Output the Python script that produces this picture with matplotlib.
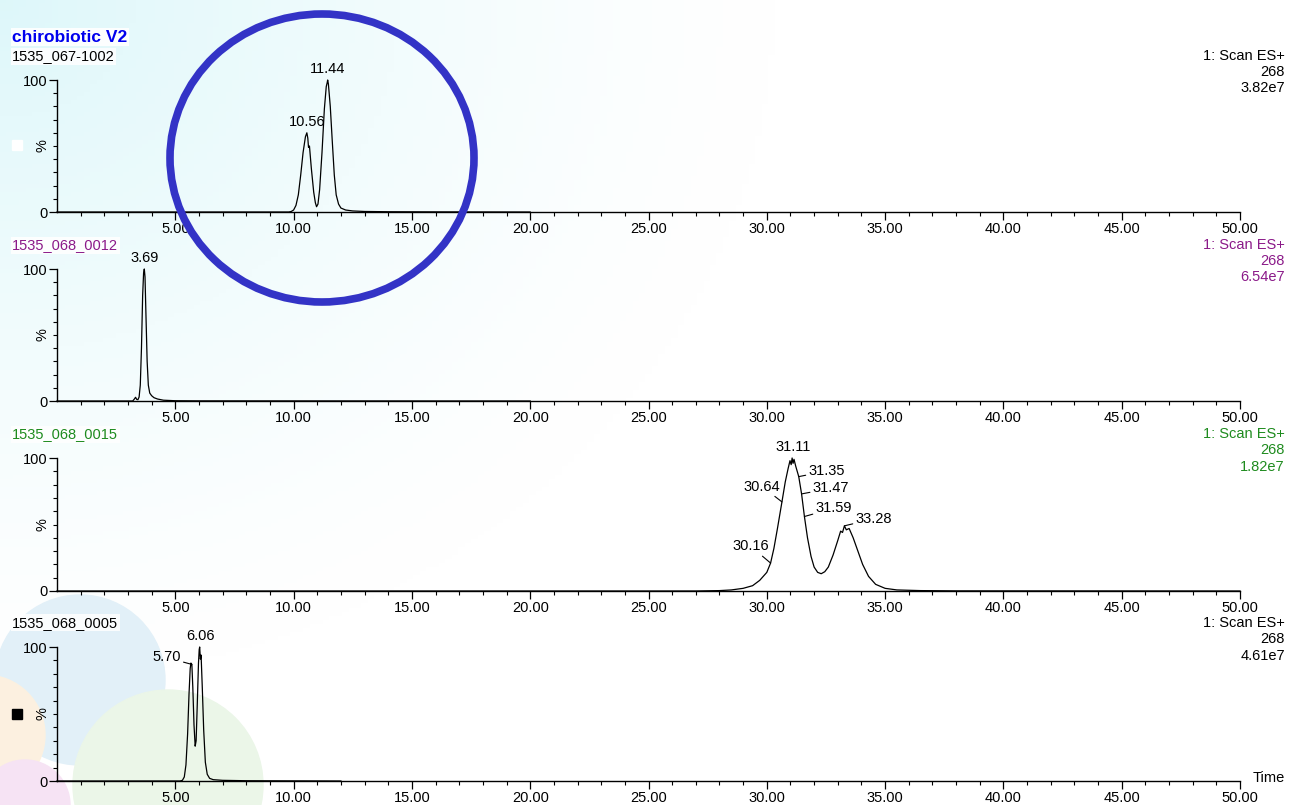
import numpy as np
import matplotlib.pyplot as plt
from matplotlib.patches import Ellipse, Circle, Rectangle

plt.rcParams['font.family'] = ['Liberation Sans', 'DejaVu Sans']

# ---- data (time in min, intensity in %) ----
t1 = [0, 9.8, 9.9, 10.0, 10.1, 10.2, 10.3, 10.4, 10.5, 10.56, 10.6, 10.63, 10.67,
      10.75, 10.85, 10.92, 10.97, 11.03, 11.1, 11.2, 11.3, 11.38, 11.42, 11.44, 11.47,
      11.55, 11.63, 11.72, 11.8, 11.9, 12.0, 12.2, 12.5, 13.0, 14.0, 16.0, 20.0]
y1 = [0, 0, 0.4, 1.5, 5, 13, 28, 45, 57, 60, 56, 49, 50,
      33, 15, 7, 4, 6, 17, 45, 78, 95, 98, 100, 97,
      80, 55, 28, 13, 6, 3, 1.5, 0.8, 0.4, 0.2, 0.1, 0]

t2 = [0, 3.2, 3.27, 3.32, 3.37, 3.42, 3.47, 3.52, 3.57, 3.62, 3.66, 3.69, 3.72,
      3.76, 3.81, 3.86, 3.92, 4.0, 4.1, 4.25, 4.5, 5.0, 6.0, 20.0]
y2 = [0, 0, 1.5, 2.8, 1.2, 1.0, 3, 12, 40, 80, 97, 100, 94,
      65, 30, 12, 6, 4, 2.5, 1.5, 0.6, 0.2, 0.1, 0]

t3 = [0, 27.0, 28.0, 28.5, 29.0, 29.4, 29.7, 30.0, 30.16, 30.3, 30.45, 30.64, 30.78,
      30.9, 30.98, 31.03, 31.07, 31.11, 31.15, 31.22, 31.35, 31.47, 31.59, 31.72,
      31.87, 32.0, 32.15, 32.3, 32.45, 32.6, 32.8, 33.0, 33.12, 33.2, 33.28, 33.36,
      33.48, 33.65, 33.85, 34.05, 34.3, 34.6, 35.0, 35.5, 36.5, 38.0, 50.0]
y3 = [0, 0, 0.3, 0.8, 2, 4, 8, 14, 21, 32, 47, 67, 82,
      92, 98, 95, 100, 96, 99, 94, 86, 73, 56, 40,
      26, 18, 14, 13, 14.5, 18, 27, 38, 45, 44, 49, 46,
      47, 40, 30, 20, 11, 5, 2, 0.8, 0.3, 0.1, 0]

t4 = [0, 5.2, 5.3, 5.38, 5.45, 5.52, 5.58, 5.63, 5.66, 5.7, 5.74, 5.79, 5.84,
      5.88, 5.93, 5.98, 6.01, 6.03, 6.06, 6.09, 6.14, 6.2, 6.27, 6.35, 6.45,
      6.6, 7.0, 8.0, 10.0, 12.0]
y4 = [0, 0, 0.5, 3, 12, 35, 65, 84, 88, 87, 70, 42, 26,
      30, 58, 88, 98, 100, 91, 94, 70, 38, 14, 5, 2,
      1, 0.5, 0.2, 0.1, 0]

names = ['1535_067-1002', '1535_068_0012', '1535_068_0015', '1535_068_0005']
name_colors = ['black', '#8B1A89', '#1E8B1E', 'black']
scale = ['3.82e7', '6.54e7', '1.82e7', '4.61e7']
mass = '268'

# peak labels: (time, %, label dx, label dy) offsets in points
peaks1 = [(10.56, 60, 0, 3), (11.44, 100, 0, 3)]
peaks2 = [(3.69, 100, 0, 3)]
peaks3 = [(31.11, 100, 0, 3), (30.16, 21, -1, 12), (30.64, 67, -1, 11),
          (31.35, 86, 7, 4), (31.47, 73, 8, 4), (31.59, 56, 8, 6), (33.28, 49, 8, 5)]
peaks4 = [(5.70, 87, -8, 5), (6.06, 100, 0, 3)]

traces = [(t1, y1, peaks1), (t2, y2, peaks2), (t3, y3, peaks3), (t4, y4, peaks4)]

W, H = 1291, 805
FS = 10.5
fig = plt.figure(figsize=(W / 100, H / 100), dpi=100)

# faint watermark-like background
bg = fig.add_axes([0, 0, 1, 1], zorder=-5)
bg.set_xlim(0, W)
bg.set_ylim(H, 0)
bg.axis('off')
gx = np.linspace(0, 1, 200)
gy = np.linspace(0, 1, 200)
GX, GY = np.meshgrid(gx, gy)
fade = np.clip(1 - np.sqrt((GX / 0.6) ** 2 + (GY / 0.85) ** 2), 0, 1) ** 1.3
img = np.ones((200, 200, 3))
img[..., 0] -= 0.13 * fade
img[..., 1] -= 0.03 * fade
img[..., 2] -= 0.02 * fade
bg.imshow(img, extent=[0, W, H, 0], aspect='auto', zorder=0)
for (cx, cy, r, c) in [(80, 680, 85, '#e2f0f8'), (-15, 735, 60, '#fcf0e0'),
                       (25, 805, 45, '#f6e3f4'), (168, 785, 95, '#ebf6e8')]:
    bg.add_patch(Circle((cx, cy), r, color=c, zorder=1))

lefts = 57 / W
width = (1240 - 57) / W
bottoms = [212, 401, 591, 781]
tops = [80, 269, 458, 647]

axes = []
for i in range(4):
    b = 1 - bottoms[i] / H
    h = (bottoms[i] - tops[i]) / H
    ax = fig.add_axes([lefts, b, width, h])
    ax.patch.set_alpha(0)
    t, y, pk = traces[i]
    ax.plot(t, y, color='black', lw=0.9, clip_on=False)
    ax.set_xlim(0, 50)
    ax.set_ylim(0, 100)
    for s in ['top', 'right']:
        ax.spines[s].set_visible(False)
    ax.spines['left'].set_linewidth(1.0)
    ax.spines['bottom'].set_linewidth(1.0)
    ax.set_xticks(np.arange(5, 51, 5))
    ax.set_xticklabels(['%.2f' % v for v in np.arange(5, 51, 5)])
    ax.set_xticks(np.arange(1, 51, 1), minor=True)
    ax.set_yticks([0, 100])
    ax.set_yticklabels(['0', '100'])
    ax.set_yticks(np.arange(10, 100, 10), minor=True)
    ax.tick_params(axis='both', which='major', length=6, width=0.9, labelsize=FS,
                   pad=1, direction='out')
    ax.tick_params(axis='both', which='minor', length=3, width=0.8, direction='out')
    ax.text(-0.012, 0.5, '%', rotation=90, ha='center', va='center',
            transform=ax.transAxes, fontsize=FS)
    for (pt, py, dx, dy) in pk:
        if dx == 0:
            ax.annotate('%.2f' % pt, (pt, py), xytext=(0, dy), textcoords='offset points',
                        ha='center', va='bottom', fontsize=FS, annotation_clip=False)
        else:
            ax.annotate('%.2f' % pt, (pt, py), xytext=(dx, dy), textcoords='offset points',
                        ha='right' if dx < 0 else 'left', va='center', fontsize=FS,
                        annotation_clip=False,
                        arrowprops=dict(arrowstyle='-', lw=0.8, color='black',
                                        shrinkA=0, shrinkB=0))
    # sample name and scan info
    ax.text(-0.038, 1.18, names[i], transform=ax.transAxes, ha='left', va='center',
            fontsize=FS, color=name_colors[i],
            bbox=dict(facecolor='white', edgecolor='none', pad=1, alpha=0.85))
    for k, s in enumerate(['1: Scan ES+', mass, scale[i]]):
        ax.text(1.038, 1.18 - 0.122 * k, s, transform=ax.transAxes, ha='right',
                va='center', fontsize=FS, color=name_colors[i])
    axes.append(ax)

axes[3].text(1.011, 0.02, 'Time', transform=axes[3].transAxes, ha='left', va='center',
             fontsize=FS)

fig.text(12 / W, 1 - 37 / H, 'chirobiotic V2', color='#0000EE', fontsize=12.5,
         fontweight='bold', ha='left', va='center',
         bbox=dict(facecolor='white', edgecolor='none', pad=1, alpha=0.9))

# overlay: highlight ellipse and small markers
ov = fig.add_axes([0, 0, 1, 1], zorder=10)
ov.set_xlim(0, W)
ov.set_ylim(H, 0)
ov.axis('off')
ov.patch.set_alpha(0)
ov.add_patch(Ellipse((322, 158), 304, 288, fill=False, edgecolor='#3333C6', lw=5.5))
ov.add_patch(Rectangle((12, 709), 10, 10, color='black'))
ov.add_patch(Rectangle((12, 140), 10, 10, color='white'))

fig.savefig('out.png', dpi=100)
